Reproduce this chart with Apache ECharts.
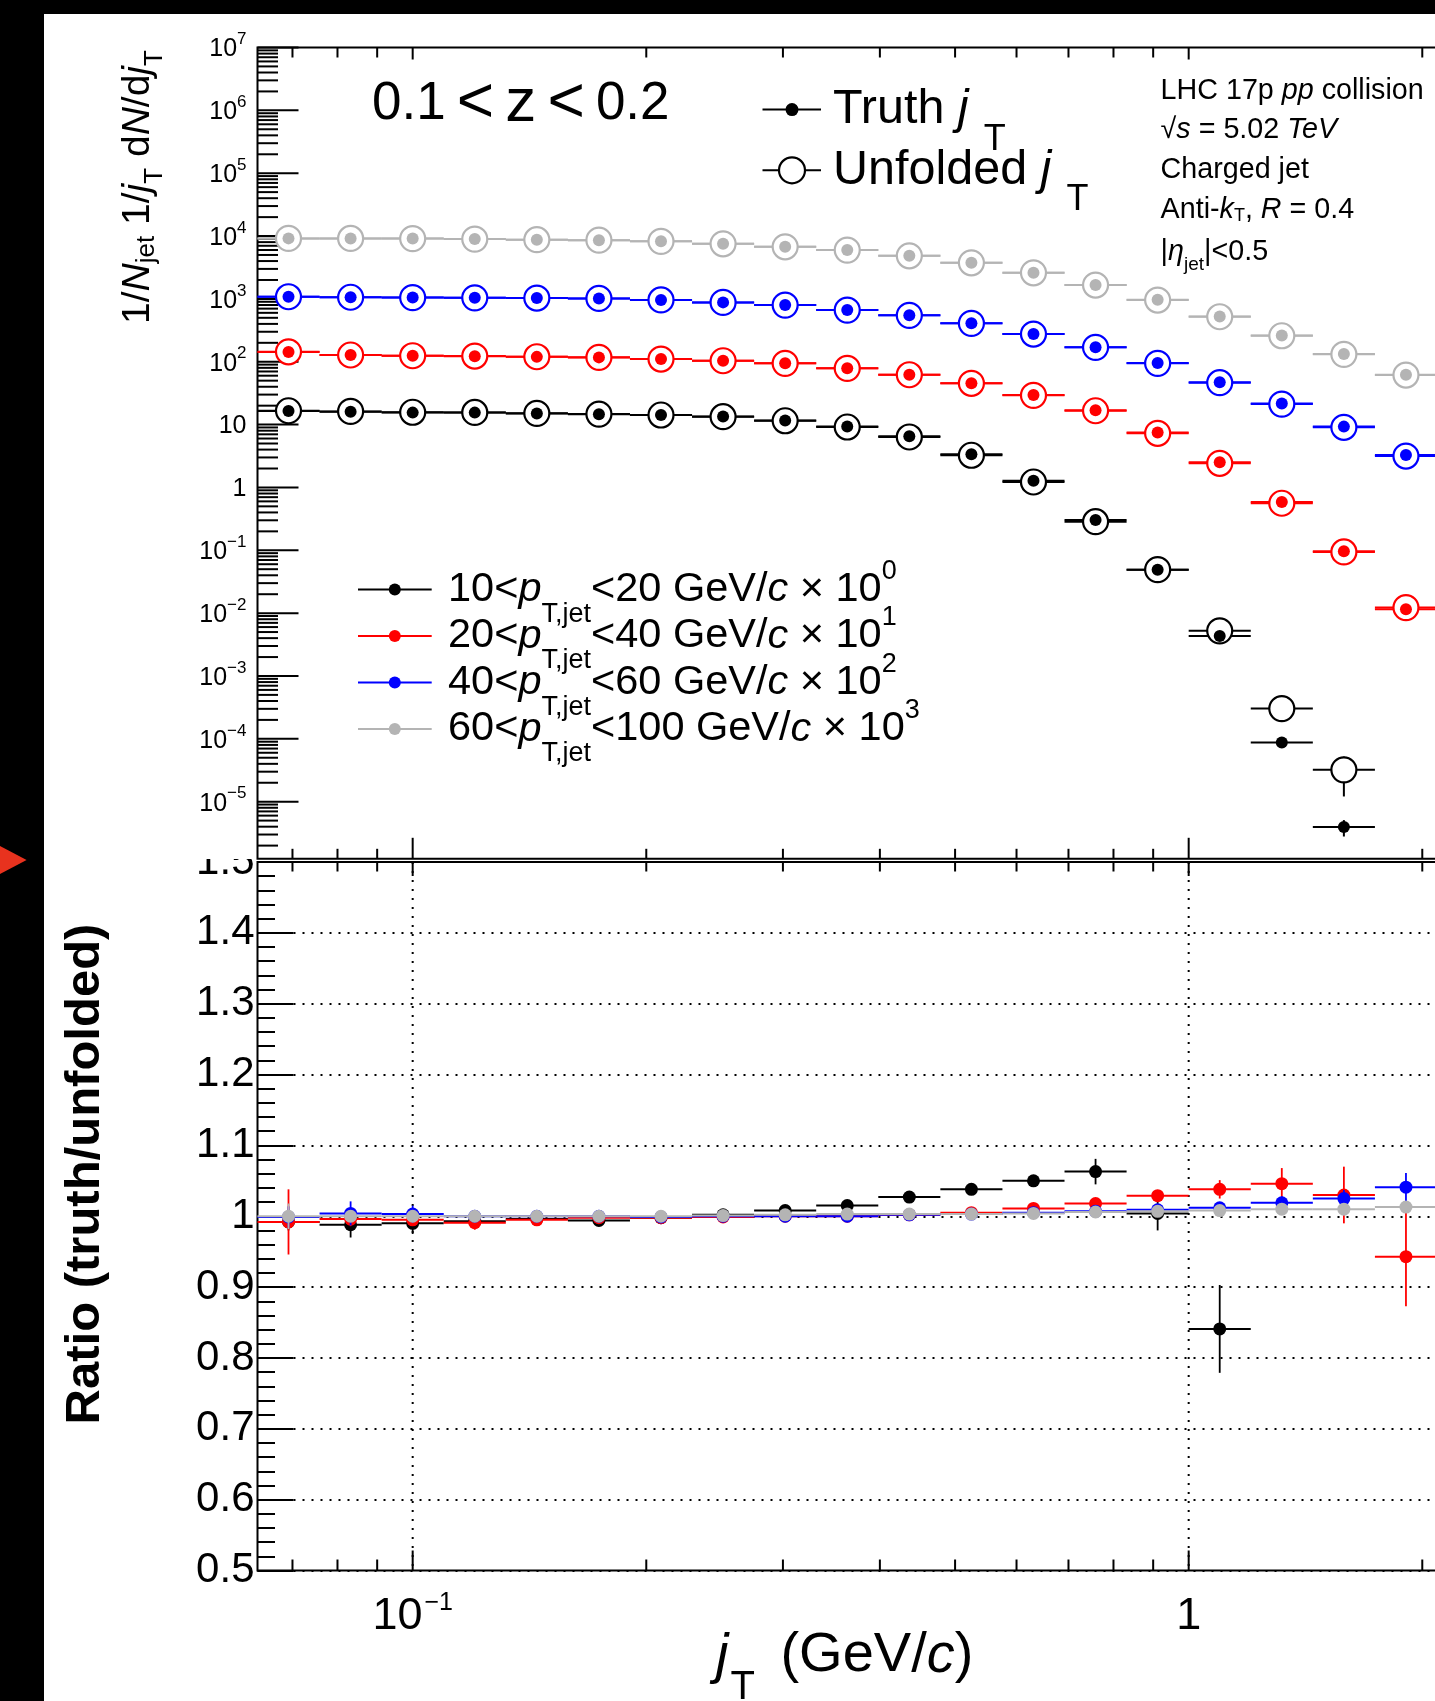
<!DOCTYPE html>
<html>
<head>
<meta charset="utf-8">
<title>jT unfolding closure test</title>
<script src="https://cdn.jsdelivr.net/npm/echarts@6.0.0/dist/echarts.min.js"></script>
<style>
html, body { margin: 0; padding: 0; background: #ffffff; }
#chart { width: 1435px; height: 1701px; }
</style>
</head>
<body>
<div id="chart"></div>
<script>
// ================= data =================
const binEdges = [0.06310, 0.07586, 0.09120, 0.10965, 0.13183, 0.15849, 0.19055, 0.22909, 0.27542, 0.33113,
                  0.39811, 0.47863, 0.57544, 0.69183, 0.83176, 1.0, 1.20226, 1.44544, 1.73780, 2.08930];
const jtCenters = [0.06918, 0.08318, 0.1, 0.12023, 0.14454, 0.17378, 0.20893, 0.25119, 0.30200, 0.36308,
                   0.43652, 0.52481, 0.63096, 0.75858, 0.91201, 1.09648, 1.31826, 1.58489, 1.90546];

const ptLow = [10, 20, 40, 60];
const ptHigh = [20, 40, 60, 100];
const scaleExponent = [0, 1, 2, 3];
const seriesColors = ['#000000', '#ff0000', '#0000ff', '#b4b4b4'];

// top panel: unfolded and truth spectra (already scaled by 10^n)
const unfoldedBlack = [16.6, 16.2, 15.7, 15.6, 15.1, 14.7, 14.2, 13.35, 11.5, 9.15, 6.35, 3.25, 1.22, 0.285, 0.0492, 0.00522, 3.03e-4, 3.21e-5, null];
const truthBlack    = [16.5, 16.0, 15.5, 15.5, 15.0, 14.6, 14.2, 13.4, 11.6, 9.29, 6.52, 3.37, 1.28, 0.303, 0.0491, 0.00434, 8.73e-5, 3.94e-6, null];
const errUnfoldedBlack = [0, 0, 0, 0, 0, 0, 0, 0, 0, 0, 0, 0, 0, 0, 0, 8e-5, 6e-5, 2.0e-5, null];
const errTruthBlack    = [0, 0, 0, 0, 0, 0, 0, 0, 0, 0, 0, 0, 0, 0, 0, 0, 5e-6, 1.15e-6, null];

const unfoldedRed = [144, 128, 124.6, 123.2, 120.1, 117.5, 110.4, 103.7, 94.3, 78.5, 62.1, 45.4, 29.2, 16.6, 7.27, 2.42, 0.56, 0.0941, 0.01224];
const truthRed    = [143, 127.5, 124, 122, 119.5, 117.3, 110.2, 103.6, 94.3, 78.5, 62.2, 45.6, 29.5, 16.9, 7.48, 2.51, 0.586, 0.0969, 0.01154];

const unfoldedBlue = [1082, 1062, 1048, 1040, 1032, 1018, 962, 880, 797, 664, 547, 408, 276, 169.4, 94.3, 46.4, 21.2, 9.05, 3.16];
const truthBlue    = [1081, 1066, 1051, 1040, 1032, 1018, 961, 880, 797, 664, 548, 409, 277, 170.6, 95.1, 47.0, 21.6, 9.28, 3.29];

const unfoldedGray = [9180, 9150, 9100, 8950, 8750, 8600, 8230, 7530, 6740, 5980, 4850, 3750, 2600, 1660, 958, 520, 259, 131, 61.4];
const truthGray    = [9180, 9150, 9100, 8950, 8750, 8600, 8230, 7540, 6750, 6000, 4865, 3760, 2610, 1670, 965, 524, 262, 132.3, 62.2];

// bottom panel: ratio truth / unfolded with errors
const ratioBlack = [0.992, 0.988, 0.990, 0.993, 0.996, 0.994, 0.998, 1.002, 1.008, 1.015, 1.027, 1.038, 1.050, 1.063, 1.004, 0.841, null, null, null];
const ratioErrBlack = [0.012, 0.018, 0.015, 0.010, 0.007, 0.006, 0.005, 0.004, 0.004, 0.005, 0.005, 0.006, 0.008, 0.018, 0.024, 0.062, null, null, null];
const ratioRed = [0.992, 0.996, 0.995, 0.991, 0.995, 0.998, 0.998, 0.999, 1.000, 1.000, 1.002, 1.005, 1.011, 1.018, 1.029, 1.038, 1.046, 1.030, 0.943];
const ratioErrRed = [0.046, 0.010, 0.008, 0.010, 0.008, 0.006, 0.005, 0.004, 0.004, 0.004, 0.004, 0.005, 0.006, 0.007, 0.008, 0.013, 0.022, 0.040, 0.070];
const ratioBlue = [0.999, 1.004, 1.003, 1.000, 1.000, 1.000, 0.999, 1.000, 1.000, 1.000, 1.002, 1.003, 1.005, 1.007, 1.009, 1.012, 1.019, 1.025, 1.041];
const ratioErrBlue = [0.015, 0.017, 0.012, 0.008, 0.006, 0.005, 0.004, 0.003, 0.003, 0.003, 0.003, 0.004, 0.004, 0.005, 0.006, 0.008, 0.009, 0.012, 0.020];
const ratioGray = [1.000, 1.000, 1.000, 1.000, 1.000, 1.000, 1.000, 1.001, 1.002, 1.003, 1.003, 1.003, 1.004, 1.006, 1.007, 1.008, 1.010, 1.010, 1.013];
const ratioErrGray = [0.018, 0.008, 0.006, 0.005, 0.004, 0.003, 0.003, 0.003, 0.003, 0.003, 0.003, 0.003, 0.003, 0.003, 0.004, 0.004, 0.005, 0.006, 0.008];

// tick values and labels
const xMajorTicks = [0.1, 1];
const xMajorLabels = ['{b|10}{t|\u22121}', '{b|1}'];
const xMinorTicks = [0.07, 0.08, 0.09, 0.2, 0.3, 0.4, 0.5, 0.6, 0.7, 0.8, 0.9, 2];
const yMajorExponents = [7, 6, 5, 4, 3, 2, 1, 0, -1, -2, -3, -4, -5];
const yMajorLabels = ['{b|10}{t|7}', '{b|10}{t|6}', '{b|10}{t|5}', '{b|10}{t|4}', '{b|10}{t|3}', '{b|10}{t|2}',
                      '{b|10}', '{b|1}', '{b|10}{t|\u22121}', '{b|10}{t|\u22122}', '{b|10}{t|\u22123}',
                      '{b|10}{t|\u22124}', '{b|10}{t|\u22125}'];
const ratioMin = 0.5, ratioMax = 1.5, ratioStep = 0.1;

// ================= chart =================
const FONT = "'Liberation Sans', Arial, Helvetica, sans-serif";
const X_MIN = binEdges[0], X_MAX = binEdges[binEdges.length - 1];
const Y_MIN = 1.233e-6, Y_MAX = 1e7;

function rs(size, extra) {
  return Object.assign({ fontFamily: FONT, fontSize: size, fill: '#000', color: '#000', verticalAlign: 'middle' }, extra || {});
}
const yLabelRich = { b: rs(25), t: rs(17, { padding: [0, 0, 20, 0] }) };
const xLabelRich = { b: rs(45), t: rs(25, { padding: [0, 0, 26, 2] }) };

// tick data (axis decoration)
const topTickData = [];
xMajorTicks.forEach((v, i) => topTickData.push([v, 1, 0, i]));
xMinorTicks.forEach(v => topTickData.push([v, 1, 1, 0]));
yMajorExponents.forEach((e, i) => topTickData.push([0.1, Math.pow(10, e), 2, i]));
for (let e = -6; e <= 6; e++) {
  for (let m = 2; m <= 9; m++) {
    const v = m * Math.pow(10, e);
    if (v > Y_MIN && v < Y_MAX) topTickData.push([0.1, v, 3, 0]);
  }
}
const ratioTickData = [];
xMajorTicks.forEach((v, i) => ratioTickData.push([v, 1, 0, i]));
xMinorTicks.forEach(v => ratioTickData.push([v, 1, 1, 0]));

function makeTickRenderer(L, opts) {
  return function (params, api) {
    const cs = params.coordSys;
    const kind = api.value(2);
    const idx = api.value(3);
    const st = { stroke: '#000', lineWidth: 2 };
    const ch = [];
    if (kind === 0 || kind === 1) {
      const px = api.coord([api.value(0), opts.yRef])[0];
      const lt = kind === 0 ? L.topMajor : L.topMinor;
      const lb = kind === 0 ? L.botMajor : L.botMinor;
      if (kind === 0 && opts.grid) {
        ch.push({ type: 'line', shape: { x1: px, y1: cs.y, x2: px, y2: cs.y + cs.height },
                  style: { stroke: '#000', lineWidth: 2, lineDash: [2, 7] } });
      }
      ch.push({ type: 'line', shape: { x1: px, y1: cs.y, x2: px, y2: cs.y + lt }, style: st });
      ch.push({ type: 'line', shape: { x1: px, y1: cs.y + cs.height, x2: px, y2: cs.y + cs.height - lb }, style: st });
      if (kind === 0 && opts.xLabels) {
        ch.push({ type: 'text', x: px, y: cs.y + cs.height + 46,
                  style: { text: xMajorLabels[idx], rich: xLabelRich, align: 'center', verticalAlign: 'middle',
                           fill: '#000', fontFamily: FONT, fontSize: 45 } });
      }
    } else {
      const py = api.coord([opts.xRef, api.value(1)])[1];
      const len = kind === 2 ? L.leftMajor : L.leftMinor;
      ch.push({ type: 'line', shape: { x1: cs.x, y1: py, x2: cs.x + len, y2: py }, style: st });
      if (kind === 2 && opts.yLabels) {
        ch.push({ type: 'text', x: cs.x - 11, y: py + 2,
                  style: { text: yMajorLabels[idx], rich: yLabelRich, align: 'right', verticalAlign: 'middle',
                           fill: '#000', fontFamily: FONT, fontSize: 25 } });
      }
    }
    return { type: 'group', children: ch };
  };
}

function topItems(unf, tru, eu, et) {
  const items = [];
  for (let k = 0; k < jtCenters.length; k++) {
    if (unf[k] == null) continue;
    items.push([jtCenters[k], unf[k], tru[k], binEdges[k], binEdges[k + 1], eu ? eu[k] : 0, et ? et[k] : 0]);
  }
  return items;
}
function ratioItems(r, e) {
  const items = [];
  for (let k = 0; k < jtCenters.length; k++) {
    if (r[k] == null) continue;
    items.push([jtCenters[k], r[k], binEdges[k], binEdges[k + 1], e[k]]);
  }
  return items;
}

function renderTop(color) {
  return function (params, api) {
    const xc = api.value(0), u = api.value(1), t = api.value(2);
    const xl = api.coord([api.value(3), u])[0], xr = api.coord([api.value(4), u])[0];
    const pu = api.coord([xc, u]), pt = api.coord([xc, t]);
    const eu = api.value(5) || 0, et = api.value(6) || 0;
    const ls = { stroke: color, lineWidth: 2 };
    const ch = [];
    ch.push({ type: 'line', shape: { x1: xl, y1: pt[1], x2: xr, y2: pt[1] }, style: ls });
    if (et > 0) {
      const a = api.coord([xc, t + et])[1], b = api.coord([xc, Math.max(t - et, Y_MIN)])[1];
      ch.push({ type: 'line', shape: { x1: pt[0], y1: a, x2: pt[0], y2: b }, style: ls });
    }
    ch.push({ type: 'line', shape: { x1: xl, y1: pu[1], x2: xr, y2: pu[1] }, style: ls });
    if (eu > 0) {
      const a = api.coord([xc, u + eu])[1], b = api.coord([xc, Math.max(u - eu, Y_MIN)])[1];
      ch.push({ type: 'line', shape: { x1: pu[0], y1: a, x2: pu[0], y2: b }, style: ls });
    }
    ch.push({ type: 'circle', shape: { cx: pu[0], cy: pu[1], r: 12.5 }, style: { fill: '#ffffff', stroke: color, lineWidth: 2.2 } });
    ch.push({ type: 'circle', shape: { cx: pt[0], cy: pt[1], r: 6 }, style: { fill: color } });
    return { type: 'group', children: ch };
  };
}
function renderRatio(color) {
  return function (params, api) {
    const xc = api.value(0), r = api.value(1), e = api.value(4);
    const p = api.coord([xc, r]);
    const xl = api.coord([api.value(2), r])[0], xr = api.coord([api.value(3), r])[0];
    const y1 = api.coord([xc, r + e])[1], y2 = api.coord([xc, r - e])[1];
    return { type: 'group', children: [
      { type: 'line', shape: { x1: xl, y1: p[1], x2: xr, y2: p[1] }, style: { stroke: color, lineWidth: 2 } },
      { type: 'line', shape: { x1: p[0], y1: y1, x2: p[0], y2: y2 }, style: { stroke: color, lineWidth: 1.8 } },
      { type: 'circle', shape: { cx: p[0], cy: p[1], r: 6.5 }, style: { fill: color } }
    ] };
  };
}

const seriesNames = ptLow.map((lo, i) => lo + '<pT,jet<' + ptHigh[i] + ' GeV/c x10^' + scaleExponent[i]);
const topSets = [
  [unfoldedBlack, truthBlack, errUnfoldedBlack, errTruthBlack],
  [unfoldedRed, truthRed, null, null],
  [unfoldedBlue, truthBlue, null, null],
  [unfoldedGray, truthGray, null, null]
];
const ratioSets = [[ratioBlack, ratioErrBlack], [ratioRed, ratioErrRed], [ratioBlue, ratioErrBlue], [ratioGray, ratioErrGray]];

const series = [];
series.push({ type: 'custom', name: 'ticks-top', xAxisIndex: 0, yAxisIndex: 0, silent: true, clip: false, z: 1,
  renderItem: makeTickRenderer({ topMajor: 12, topMinor: 10, botMajor: 21, botMinor: 10, leftMajor: 41, leftMinor: 20.5 },
                               { yRef: 1, xRef: 0.1, yLabels: true }),
  data: topTickData });
series.push({ type: 'custom', name: 'ticks-ratio', xAxisIndex: 1, yAxisIndex: 1, silent: true, clip: false, z: 1,
  renderItem: makeTickRenderer({ topMajor: 14, topMinor: 9.5, botMajor: 20, botMinor: 11 },
                               { yRef: 1, xRef: 0.1, grid: true, xLabels: true }),
  data: ratioTickData });
topSets.forEach((s, i) => {
  series.push({ type: 'custom', name: seriesNames[i], xAxisIndex: 0, yAxisIndex: 0, silent: true, clip: false, z: 3,
    renderItem: renderTop(seriesColors[i]), encode: { x: 0, y: 1 }, data: topItems(s[0], s[1], s[2], s[3]) });
});
ratioSets.forEach((s, i) => {
  series.push({ type: 'custom', name: 'ratio ' + seriesNames[i], xAxisIndex: 1, yAxisIndex: 1, silent: true, clip: false, z: 3,
    renderItem: renderRatio(seriesColors[i]), encode: { x: 0, y: 1 }, data: ratioItems(s[0], s[1]) });
});

function txt(x, y, text, rich, extra) {
  return Object.assign({ type: 'text', x: x, y: y, silent: true, z: 50,
    style: { text: text, rich: rich, fill: '#000', fontFamily: FONT, align: 'left', verticalAlign: 'middle' } }, extra || {});
}
function richSet(F, f, sub, sup, more) {
  return Object.assign({
    n: rs(F), i: rs(F, { fontStyle: 'italic' }),
    s: rs(f, { padding: [2 * sub, 0, 0, 0] }),
    p: rs(f, { padding: [0, 0, 2 * sup, 0] })
  }, more || {});
}

const legendRich = richSet(41.5, 27, 25, 18);
const truthRich = richSet(48.5, 36, 30, 0, { s: rs(36, { padding: [60, 0, 0, 15] }) });
const infoRich = richSet(28.7, 18, 6, 0, { s2: rs(19, { padding: [26, 0, 0, 0] }) });
const yTitleRich = richSet(39, 26, 9, 0, { s2: rs(26, { padding: [34, 0, 0, 0] }) });
const xTitleRich = richSet(56, 40, 32, 0, { s: rs(40, { padding: [64, 10, 0, 2] }) });
const zRich = { n: rs(53), l: rs(64), z: rs(62), w: rs(40) };

const graphic = [
  { type: 'rect', shape: { x: 0, y: 0, width: 44, height: 1701 }, style: { fill: '#000' }, z: 100, silent: true },
  { type: 'rect', shape: { x: 0, y: 0, width: 1435, height: 14 }, style: { fill: '#000' }, z: 100, silent: true },
  { type: 'polygon', shape: { points: [[0, 846], [26.6, 860], [0, 874]] }, style: { fill: '#e8321e' }, z: 101, silent: true },
  { type: 'rect', shape: { x: 150, y: 826, width: 105.5, height: 33 }, style: { fill: '#fff' }, z: 100, silent: true },

  txt(372, 104, '{n|0.1}{w| }{l|<}{w| }{z|z}{w| }{l|<}{w| }{n|0.2}', zRich),

  { type: 'line', shape: { x1: 762.5, y1: 109.6, x2: 821, y2: 109.6 }, style: { stroke: '#000', lineWidth: 2 }, z: 50, silent: true },
  { type: 'circle', shape: { cx: 792, cy: 109.6, r: 6.5 }, style: { fill: '#000' }, z: 51, silent: true },
  txt(833, 109.6, '{n|Truth }{i|j}{s|T}', truthRich),
  { type: 'line', shape: { x1: 762.5, y1: 170.3, x2: 821, y2: 170.3 }, style: { stroke: '#000', lineWidth: 2 }, z: 50, silent: true },
  { type: 'circle', shape: { cx: 792, cy: 170.3, r: 13 }, style: { fill: '#fff', stroke: '#000', lineWidth: 2.2 }, z: 51, silent: true },
  txt(833, 170.3, '{n|Unfolded }{i|j}{s|T}', truthRich),

  txt(1160.6, 91.1, '{n|LHC 17p }{i|pp}{n| collision}', infoRich),
  txt(1160.6, 130.2, '{n|\u221A}{i|s}{n| = 5.02 }{i|TeV}', infoRich),
  txt(1160.6, 170.3, '{n|Charged jet}', infoRich),
  txt(1160.6, 210.4, '{n|Anti-}{i|k}{s|T}{n|, }{i|R}{n| = 0.4}', infoRich),
  txt(1160.6, 251.6, '{n||}{i|\u03B7}{s2|jet}{n||<0.5}', infoRich),

  txt(138, 187, '{n|1/}{i|N}{s|jet}{n| 1/}{i|j}{s2|T}{n| d}{i|N}{n|/d}{i|j}{s2|T}', yTitleRich,
      { rotation: Math.PI / 2 }),
  txt(85, 1174, '{r|Ratio (truth/unfolded)}', { r: rs(49, { fontWeight: 'bold' }) }, { rotation: Math.PI / 2 }),
  txt(716, 1656, '{i|j}{s|T}{n| (GeV/}{i|c}{n|)}', xTitleRich)
];
// center-align the rotated titles
graphic[graphic.length - 3].style.align = 'center';
graphic[graphic.length - 2].style.align = 'center';

const legendRowsY = [589.5, 636, 682.5, 729];
ptLow.forEach((lo, i) => {
  const y = legendRowsY[i];
  graphic.push({ type: 'line', shape: { x1: 358, y1: y, x2: 431.7, y2: y }, style: { stroke: seriesColors[i], lineWidth: 2 }, z: 50, silent: true });
  graphic.push({ type: 'circle', shape: { cx: 394.8, cy: y, r: 6 }, style: { fill: seriesColors[i] }, z: 51, silent: true });
  graphic.push(txt(448, y, '{n|' + lo + '<}{i|p}{s|T,jet}{n|<' + ptHigh[i] + ' GeV/}{i|c}{n| \u00D7 10}{p|' + scaleExponent[i] + '}', legendRich));
});

const chart = echarts.init(document.getElementById('chart'), null, { renderer: 'canvas', width: 1435, height: 1701 });
const hiddenAxis = { axisLine: { show: false }, axisTick: { show: false }, axisLabel: { show: false }, splitLine: { show: false } };
chart.setOption({
  animation: false,
  backgroundColor: '#ffffff',
  textStyle: { fontFamily: FONT },
  grid: [
    { left: 257.5, top: 47.5, width: 1179.5, height: 811.3, show: true, borderColor: '#000', borderWidth: 2,
      backgroundColor: 'rgba(0,0,0,0)', containLabel: false, outerBoundsMode: 'none' },
    { left: 257.5, top: 862, width: 1179.5, height: 708.5, show: true, borderColor: '#000', borderWidth: 2,
      backgroundColor: 'rgba(0,0,0,0)', containLabel: false, outerBoundsMode: 'none' }
  ],
  xAxis: [
    Object.assign({ gridIndex: 0, type: 'log', logBase: 10, min: X_MIN, max: X_MAX }, hiddenAxis),
    Object.assign({ gridIndex: 1, type: 'log', logBase: 10, min: X_MIN, max: X_MAX }, hiddenAxis)
  ],
  yAxis: [
    Object.assign({ gridIndex: 0, type: 'log', logBase: 10, min: Y_MIN, max: Y_MAX }, hiddenAxis),
    { gridIndex: 1, type: 'value', min: ratioMin, max: ratioMax, interval: ratioStep,
      axisLine: { show: false },
      axisTick: { show: true, inside: true, length: 36, lineStyle: { color: '#000', width: 2 } },
      minorTick: { show: true, splitNumber: 5, length: 17.5, lineStyle: { color: '#000', width: 2 } },
      axisLabel: { show: true, margin: 3, fontSize: 42, color: '#000', fontFamily: FONT, showMinLabel: true, showMaxLabel: true,
                   formatter: v => (Math.abs(v - 1) < 1e-9 ? '1' : v.toFixed(1)) },
      splitLine: { show: true, lineStyle: { color: '#000', width: 2, type: [2, 7] } },
      minorSplitLine: { show: false } }
  ],
  graphic: graphic,
  series: series
});
</script>
</body>
</html>
